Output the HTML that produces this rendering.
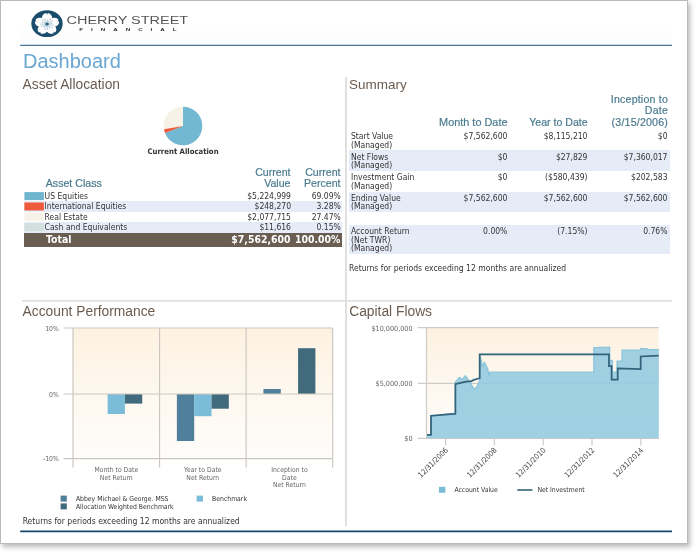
<!DOCTYPE html>
<html>
<head>
<meta charset="utf-8">
<title>Dashboard</title>
<style>
html,body{margin:0;padding:0;background:#fff;}
body{width:697px;height:553px;position:relative;overflow:hidden;font-family:"DejaVu Sans Condensed","DejaVu Sans","Liberation Sans",sans-serif;color:#333;}
.abs{position:absolute;white-space:nowrap;}
#frame{position:absolute;left:0;top:0;width:686px;height:542px;border:1px solid #b9b9b9;background:#fff;box-shadow:2px 3px 5px rgba(0,0,0,0.28);}
#hdrbg{position:absolute;left:20px;top:1px;width:652px;height:44px;background:linear-gradient(#ffffff 45%,#fbfcfd);}
.hline{position:absolute;height:0;}
h1,h2{margin:0;font-weight:normal;font-family:"Liberation Sans",sans-serif;position:absolute;white-space:nowrap;}
h1{font-size:20px;color:#6aa6d2;left:23px;top:49.5px;line-height:22px;}
h2{font-size:13.8px;color:#6b5b4f;line-height:16px;}
.th{font-family:"Liberation Sans",sans-serif;font-size:10.6px;line-height:11.4px;color:#4b7b8f;text-align:right;-webkit-text-stroke:0.2px #4b7b8f;}
.t{font-size:8.5px;line-height:10.5px;color:#333;}
.r{text-align:right;}
.band{position:absolute;background:#e6ecf7;}
.sm{font-size:6.8px;color:#555;line-height:7.7px;}
</style>
</head>
<body>
<div id="frame"></div>
<div id="hdrbg"></div>

<!-- logo -->
<svg class="abs" style="left:25px;top:5px" width="180" height="38" viewBox="25 5 180 38">
  <ellipse cx="47" cy="23.7" rx="15.7" ry="13.4" fill="#1b4d6d"/>
  <g transform="translate(47,24.1) scale(1.14,1)">
    <g fill="#fff"><ellipse cx="0" cy="-6.1" rx="4.5" ry="4.9" transform="rotate(0)"/><ellipse cx="0" cy="-6.1" rx="4.5" ry="4.9" transform="rotate(72)"/><ellipse cx="0" cy="-6.1" rx="4.5" ry="4.9" transform="rotate(144)"/><ellipse cx="0" cy="-6.1" rx="4.5" ry="4.9" transform="rotate(216)"/><ellipse cx="0" cy="-6.1" rx="4.5" ry="4.9" transform="rotate(288)"/><circle r="4.5"/></g>
    <g fill="#1b4d6d"><path d="M-1 -11.6 L0 -9.6 L1 -11.6 Z" transform="rotate(0)"/><path d="M-1 -11.6 L0 -9.6 L1 -11.6 Z" transform="rotate(72)"/><path d="M-1 -11.6 L0 -9.6 L1 -11.6 Z" transform="rotate(144)"/><path d="M-1 -11.6 L0 -9.6 L1 -11.6 Z" transform="rotate(216)"/><path d="M-1 -11.6 L0 -9.6 L1 -11.6 Z" transform="rotate(288)"/></g>
    <path d="M0 0 L0.44 -4.18 M0 0 L2.80 -4.85 M0 0 L4.53 -3.29 M0 0 L4.11 -0.87 M0 0 L5.48 1.16 M0 0 L4.53 3.29 M0 0 L2.10 3.64 M0 0 L0.59 5.57 M0 0 L-1.73 5.33 M0 0 L-2.81 3.12 M0 0 L-5.12 2.28 M0 0 L-5.60 0.00 M0 0 L-3.84 -1.71 M0 0 L-3.75 -4.16 M0 0 L-1.73 -5.33" stroke="#7fa6bd" stroke-width="0.45" fill="none"/>
    <g fill="#6f9ab3"><circle cx="0.44" cy="-4.18" r="0.45"/><circle cx="2.80" cy="-4.85" r="0.45"/><circle cx="4.53" cy="-3.29" r="0.45"/><circle cx="4.11" cy="-0.87" r="0.45"/><circle cx="5.48" cy="1.16" r="0.45"/><circle cx="4.53" cy="3.29" r="0.45"/><circle cx="2.10" cy="3.64" r="0.45"/><circle cx="0.59" cy="5.57" r="0.45"/><circle cx="-1.73" cy="5.33" r="0.45"/><circle cx="-2.81" cy="3.12" r="0.45"/><circle cx="-5.12" cy="2.28" r="0.45"/><circle cx="-5.60" cy="0.00" r="0.45"/><circle cx="-3.84" cy="-1.71" r="0.45"/><circle cx="-3.75" cy="-4.16" r="0.45"/><circle cx="-1.73" cy="-5.33" r="0.45"/></g>
    <circle r="1.5" fill="#2f6685"/>
  </g>
  <text x="66.6" y="23.7" font-family="Liberation Sans, sans-serif" font-size="10" fill="#555" textLength="121.5" lengthAdjust="spacingAndGlyphs">CHERRY STREET</text>
  <text transform="translate(79.3,31.3) scale(1.6,1)" font-family="Liberation Sans, sans-serif" font-size="3.9" font-weight="bold" fill="#333" textLength="60.8" lengthAdjust="spacing">FINANCIAL</text>
</svg>
<svg class="abs" style="left:0;top:0" width="697" height="553"><path d="M20.2 45.4 H672" stroke="#4a7898" stroke-width="1.2"/><path d="M20.2 531.4 H672" stroke="#17466a" stroke-width="1.6"/><path d="M346 77 V526" stroke="#dddddd" stroke-width="1.8"/><path d="M22 300.8 H672" stroke="#dfdfdf" stroke-width="1.8"/></svg>

<h1>Dashboard</h1>

<!-- Asset Allocation -->
<h2 style="left:22.6px;top:76.5px;">Asset Allocation</h2>
<svg class="abs" style="left:160px;top:103px" width="46" height="46" viewBox="-23 -23 46 46">
  <circle r="19.3" fill="#f6f2e8"/>
  <path d="M0 0 L0 -19.3 A19.3 19.3 0 1 1 -17.97 7.05 Z" fill="#72b8d2"/>
  <path d="M0 0 L-17.97 7.05 A19.3 19.3 0 0 1 -18.98 3.23 Z" fill="#ee5a3c"/>
</svg>
<div class="abs" style="left:133px;top:146.6px;width:100px;text-align:center;font-size:7.7px;font-weight:bold;color:#333;line-height:9px;">Current Allocation</div>

<div class="abs th" style="left:45.8px;top:178px;text-align:left;">Asset Class</div>
<div class="abs th" style="left:230px;width:60.5px;top:167px;">Current<br>Value</div>
<div class="abs th" style="left:280px;width:60.5px;top:167px;">Current<br>Percent</div>
<div class="band" style="left:24px;top:201.4px;width:317.5px;height:10.4px;"></div>
<div class="band" style="left:24px;top:222.2px;width:317.5px;height:10.4px;"></div>
<div class="abs" style="left:24px;top:232.6px;width:317.5px;height:14.4px;background:#6a5d52;"></div>
<svg class="abs" style="left:20px;top:188px" width="30" height="48" viewBox="20 188 30 48"><rect x="24.4" y="192.10" width="19.5" height="8" fill="#6eb5cf"/><rect x="24.4" y="202.47" width="19.5" height="8" fill="#ee5a3c"/><rect x="24.4" y="212.84" width="19.5" height="8" fill="#f6f2e8"/><rect x="24.4" y="223.21" width="19.5" height="8" fill="#d3dfdc"/></svg>
<div class="abs t" style="left:44.6px;top:190.7px;">US Equities</div>
<div class="abs t r" style="left:200px;width:91px;top:190.7px;">$5,224,999</div>
<div class="abs t r" style="left:280px;width:60.8px;top:190.7px;">69.09%</div>
<div class="abs t" style="left:44.6px;top:201.1px;">International Equities</div>
<div class="abs t r" style="left:200px;width:91px;top:201.1px;">$248,270</div>
<div class="abs t r" style="left:280px;width:60.8px;top:201.1px;">3.28%</div>
<div class="abs t" style="left:44.6px;top:211.5px;">Real Estate</div>
<div class="abs t r" style="left:200px;width:91px;top:211.5px;">$2,077,715</div>
<div class="abs t r" style="left:280px;width:60.8px;top:211.5px;">27.47%</div>
<div class="abs t" style="left:44.6px;top:221.9px;">Cash and Equivalents</div>
<div class="abs t r" style="left:200px;width:91px;top:221.9px;">$11,616</div>
<div class="abs t r" style="left:280px;width:60.8px;top:221.9px;">0.15%</div>
<div class="abs" style="left:46px;top:232px;font-size:10.4px;line-height:14px;font-weight:bold;color:#fff;">Total</div>
<div class="abs r" style="left:200px;width:90.5px;top:232px;font-size:10.4px;line-height:14px;font-weight:bold;color:#fff;">$7,562,600</div>
<div class="abs r" style="left:280px;width:60.5px;top:232px;font-size:10.4px;line-height:14px;font-weight:bold;color:#fff;">100.00%</div>

<!-- Summary -->
<h2 style="left:349px;top:76.8px;font-size:13.5px;">Summary</h2>
<div class="abs th" style="left:420px;width:87.5px;top:116.5px;font-size:10.9px;">Month to Date</div>
<div class="abs th" style="left:500px;width:87.7px;top:116.5px;">Year to Date</div>
<div class="abs th" style="left:570px;width:98px;top:93.7px;letter-spacing:0.2px;">Inception to<br>Date<br>(3/15/2006)</div>
<div class="band" style="left:349px;top:150px;width:320.5px;height:20.8px;"></div>
<div class="band" style="left:349px;top:192px;width:320.5px;height:20.2px;"></div>
<div class="band" style="left:349px;top:225px;width:320.5px;height:29px;"></div>
<div class="abs t" style="left:351px;top:132.4px;line-height:8.4px;">Start Value<br>(Managed)</div>
<div class="abs t r" style="left:420px;width:87.4px;top:132.4px;line-height:8.4px;">$7,562,600</div>
<div class="abs t r" style="left:500px;width:87.5px;top:132.4px;line-height:8.4px;">$8,115,210</div>
<div class="abs t r" style="left:580px;width:87.5px;top:132.4px;line-height:8.4px;">$0</div>
<div class="abs t" style="left:351px;top:152.7px;line-height:8.4px;">Net Flows<br>(Managed)</div>
<div class="abs t r" style="left:420px;width:87.4px;top:152.7px;line-height:8.4px;">$0</div>
<div class="abs t r" style="left:500px;width:87.5px;top:152.7px;line-height:8.4px;">$27,829</div>
<div class="abs t r" style="left:580px;width:87.5px;top:152.7px;line-height:8.4px;">$7,360,017</div>
<div class="abs t" style="left:351px;top:173.1px;line-height:8.4px;">Investment Gain<br>(Managed)</div>
<div class="abs t r" style="left:420px;width:87.4px;top:173.1px;line-height:8.4px;">$0</div>
<div class="abs t r" style="left:500px;width:87.5px;top:173.1px;line-height:8.4px;">($580,439)</div>
<div class="abs t r" style="left:580px;width:87.5px;top:173.1px;line-height:8.4px;">$202,583</div>
<div class="abs t" style="left:351px;top:193.7px;line-height:8.4px;">Ending Value<br>(Managed)</div>
<div class="abs t r" style="left:420px;width:87.4px;top:193.7px;line-height:8.4px;">$7,562,600</div>
<div class="abs t r" style="left:500px;width:87.5px;top:193.7px;line-height:8.4px;">$7,562,600</div>
<div class="abs t r" style="left:580px;width:87.5px;top:193.7px;line-height:8.4px;">$7,562,600</div>
<div class="abs t" style="left:351px;top:227.1px;line-height:8.4px;">Account Return<br>(Net TWR)<br>(Managed)</div>
<div class="abs t r" style="left:420px;width:87.4px;top:227.1px;line-height:8.4px;">0.00%</div>
<div class="abs t r" style="left:500px;width:87.5px;top:227.1px;line-height:8.4px;">(7.15%)</div>
<div class="abs t r" style="left:580px;width:87.5px;top:227.1px;line-height:8.4px;">0.76%</div>
<div class="abs t" style="left:349px;top:262.5px;">Returns for periods exceeding 12 months are annualized</div>

<!-- Account Performance -->
<h2 style="left:22.6px;top:304px;">Account Performance</h2>
<svg class="abs" style="left:0;top:320px" width="345" height="200" viewBox="0 320 345 200">
  <defs>
    <linearGradient id="g1" x1="0" y1="0" x2="0" y2="1">
      <stop offset="0" stop-color="#fdf2e1"/>
      <stop offset="1" stop-color="#fefdfb"/>
    </linearGradient>
  </defs>
  <rect x="73.0" y="328.0" width="259.7" height="130.6" fill="url(#g1)"/>
  <g>
    <rect x="107.63" y="394.00" width="17.31" height="20.00" fill="#7bbdd8"/><rect x="124.94" y="394.00" width="17.31" height="9.60" fill="#416a7c"/><rect x="176.88" y="394.00" width="17.31" height="47.00" fill="#4f7f9b"/><rect x="194.19" y="394.00" width="17.31" height="22.20" fill="#7bbdd8"/><rect x="211.51" y="394.00" width="17.31" height="14.70" fill="#416a7c"/><rect x="263.45" y="389.00" width="17.31" height="5.00" fill="#4f7f9b"/><rect x="298.07" y="348.20" width="17.31" height="45.80" fill="#416a7c"/>
  </g>
  <g stroke="#cbc7c0" stroke-width="1.15" fill="none">
    <path d="M63.6 328.0 H332.7 M63.6 394.0 H332.7 M63.6 458.6 H332.7"/>
    <path d="M73.00 328.0 V467.4 M159.57 328.0 V467.4 M246.13 328.0 V467.4 M332.70 328.0 V467.4"/>
  </g>
  <g font-family="DejaVu Sans Condensed, DejaVu Sans, Liberation Sans, sans-serif" font-size="6.8" fill="#666">
    <text x="58.8" y="330.6" text-anchor="end">10%</text>
    <text x="58.8" y="396.6" text-anchor="end">0%</text>
    <text x="58.8" y="461.2" text-anchor="end">-10%</text>
    <text x="116.3" y="472" text-anchor="middle">Month to Date</text>
    <text x="116.3" y="479.7" text-anchor="middle">Net Return</text>
    <text x="202.8" y="472" text-anchor="middle">Year to Date</text>
    <text x="202.8" y="479.7" text-anchor="middle">Net Return</text>
    <text x="289.4" y="472" text-anchor="middle">Inception to</text>
    <text x="289.4" y="479.7" text-anchor="middle">Date</text>
    <text x="289.4" y="487.4" text-anchor="middle">Net Return</text>
  </g>
  <rect x="60.6" y="495.6" width="6.2" height="6" fill="#4f7f9b"/>
  <rect x="60.6" y="503.4" width="6.2" height="6" fill="#416a7c"/>
  <rect x="196.6" y="495.6" width="6.4" height="6" fill="#7bbdd8"/>
  <g font-family="DejaVu Sans Condensed, DejaVu Sans, Liberation Sans, sans-serif" font-size="6.8" fill="#333">
    <text x="75.9" y="500.9">Abbey Michael &amp; George. MSS</text>
    <text x="75.9" y="508.7">Allocation Weighted Benchmark</text>
    <text x="212.1" y="500.9">Benchmark</text>
  </g>
</svg>
<div class="abs t" style="left:22.7px;top:516.2px;">Returns for periods exceeding 12 months are annualized</div>

<!-- Capital Flows -->
<h2 style="left:349.2px;top:304px;">Capital Flows</h2>
<svg class="abs" style="left:348px;top:320px" width="330" height="200" viewBox="348 320 330 200">
  <rect x="426.5" y="327.6" width="232.3" height="110.7" fill="url(#g1)"/>
  <g stroke="#cfccc7" stroke-width="1.2" fill="none">
    <path d="M417.8 327.6 H658.8 M417.8 383.3 H658.8 M417.8 438.3 H658.8"/>
    <path d="M426.5 327.6 V438.3"/>
    <path d="M445.6 438.3 V445.6 M494.4 438.3 V445.6 M543.2 438.3 V445.6 M592.0 438.3 V445.6 M640.8 438.3 V445.6"/>
  </g>
  <path d="M427.0 438.3 L427.1 434.6 L431.0 434.6 L431.0 415.7 L435.3 415.2 L442.2 414.5 L450.8 413.7 L453.4 413.4 L455.4 413.2 L455.4 382.0 L456.8 380.3 L459.4 377.3 L462.0 379.4 L465.4 375.6 L468.0 379.4 L470.6 382.0 L472.3 386.3 L474.9 389.4 L477.5 385.4 L479.7 380.3 L480.4 357.0 L482.6 366.5 L484.3 362.2 L486.6 366.5 L487.8 369.1 L489.0 376.0 L490.0 372.0 L593.8 372.0 L593.8 347.7 L609.7 347.0 L609.7 360.3 L612.3 360.3 L612.3 372.0 L617.0 372.0 L617.0 361.0 L622.0 361.0 L622.0 350.0 L640.4 350.0 L640.4 348.7 L647.1 348.7 L647.1 349.6 L658.8 349.6 L658.8 438.3 Z" fill="#95cbe0" fill-opacity="0.9"/>
  <path d="M427.1 434.6 L431.0 434.6 L431.0 415.7 L435.3 415.2 L442.2 414.5 L450.8 413.7 L453.4 413.4 L455.4 413.2 L455.4 382.0 L456.8 380.3 L459.4 377.3 L462.0 379.4 L465.4 375.6 L468.0 379.4 L470.6 382.0 L472.3 386.3 L474.9 389.4 L477.5 385.4 L479.7 380.3 L480.4 357.0 L482.6 366.5 L484.3 362.2 L486.6 366.5 L487.8 369.1 L489.0 376.0 L490.0 372.0 L593.8 372.0 L593.8 347.7 L609.7 347.0 L609.7 360.3 L612.3 360.3 L612.3 372.0 L617.0 372.0 L617.0 361.0 L622.0 361.0 L622.0 350.0 L640.4 350.0 L640.4 348.7 L647.1 348.7 L647.1 349.6 L658.8 349.6" fill="none" stroke="#8ac4dc" stroke-width="1.2" stroke-linejoin="round"/>
  <path d="M427.1 434.8 L431.0 434.8 L431.0 415.9 L435.3 415.5 L442.2 414.8 L450.8 414.1 L455.4 413.9 L455.4 384.2 L459.4 383.2 L466.3 381.6 L471.4 381.1 L474.0 379.9 L478.3 378.5 L479.7 378.3 L479.7 354.4 L609.0 354.4 L609.0 366.2 L611.6 366.2 L611.6 379.7 L617.7 379.7 L617.7 368.5 L640.7 369.0 L640.7 356.5 L658.8 355.6" fill="none" stroke="#33627a" stroke-width="1.75" stroke-linejoin="miter"/>
  <g font-family="DejaVu Sans Condensed, DejaVu Sans, Liberation Sans, sans-serif" font-size="7.2" fill="#666">
    <text x="412.6" y="330.5" text-anchor="end">$10,000,000</text>
    <text x="412.6" y="386.2" text-anchor="end">$5,000,000</text>
    <text x="412.6" y="441.2" text-anchor="end">$0</text>
    <g fill="#444" font-size="7.5"><text transform="translate(448.6,450.6) rotate(-45)" text-anchor="end">12/31/2006</text><text transform="translate(497.4,450.6) rotate(-45)" text-anchor="end">12/31/2008</text><text transform="translate(546.2,450.6) rotate(-45)" text-anchor="end">12/31/2010</text><text transform="translate(595.0,450.6) rotate(-45)" text-anchor="end">12/31/2012</text><text transform="translate(643.8,450.6) rotate(-45)" text-anchor="end">12/31/2014</text></g>
  </g>
  <rect x="438.9" y="486.8" width="6.5" height="6" fill="#7bbdd8"/>
  <path d="M517.3 490 H532.4" stroke="#33627a" stroke-width="1.6"/>
  <g font-family="DejaVu Sans Condensed, DejaVu Sans, Liberation Sans, sans-serif" font-size="6.8" fill="#333">
    <text x="454.4" y="492.2">Account Value</text>
    <text x="537.4" y="492.2">Net Investment</text>
  </g>
</svg>
</body>
</html>
